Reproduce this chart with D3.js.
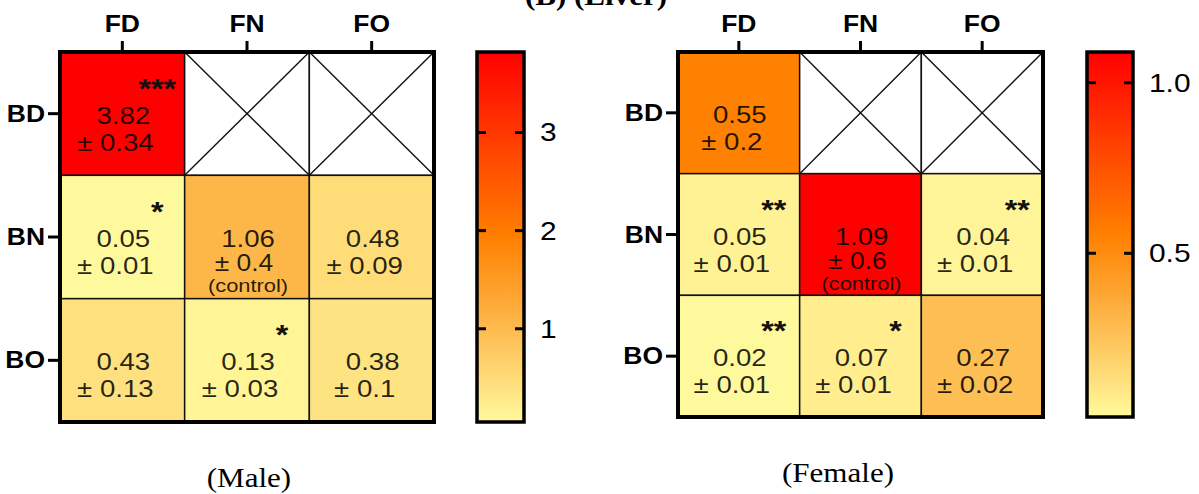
<!DOCTYPE html>
<html>
<head>
<meta charset="utf-8">
<script src="https://cdn.jsdelivr.net/npm/d3@7"></script>
<style>
  html, body { margin: 0; padding: 0; background: #fff; }
  svg { display: block; }
</style>
</head>
<body>
<div id="chart"></div>
<script>
// Data
const cols = ['FD', 'FN', 'FO'];
const rows = ['BD', 'BN', 'BO'];

const maleMean = [[3.82, null, null], [0.05, 1.06, 0.48], [0.43, 0.13, 0.38]];
const maleSd = [['0.34', null, null], ['0.01', '0.4', '0.09'], ['0.13', '0.03', '0.1']];
const maleStars = [['***', '', ''], ['*', '', ''], ['', '*', '']];
const maleTicks = [1, 2, 3];

const femaleMean = [[0.55, null, null], [0.05, 1.09, 0.04], [0.02, 0.07, 0.27]];
const femaleSd = [['0.2', null, null], ['0.01', '0.6', '0.01'], ['0.01', '0.01', '0.02']];
const femaleStars = [['', '', ''], ['**', '', '**'], ['**', '*', '']];
const femaleTicks = [0.5, 1.0];

const controlCell = { row: 'BN', col: 'FN' };
const title = '(B) (Liver)';

const W = 1199, H = 494;
const SX = 1.15; // the source figure is stretched horizontally
const sans = '"Liberation Sans", Arial, sans-serif';
const serif = '"Liberation Serif", "Times New Roman", serif';

const svg = d3.select('#chart').append('svg').attr('width', W).attr('height', H);

// small helper for horizontally stretched text
function txt(g, x, y, s, anchor, size, weight, family) {
  return g.append('text')
    .attr('transform', `translate(${x},${y}) scale(${SX},1)`)
    .attr('text-anchor', anchor)
    .style('font-family', family || sans)
    .style('font-size', size + 'px')
    .style('font-weight', weight || 'normal')
    .text(s);
}

const ramp = d3.scaleLinear()
  .domain([0, 0.25, 0.5, 1])
  .range(['#FFF99D', '#FDBB4F', '#FF8000', '#FF0000'])
  .interpolate(d3.interpolateRgb);

function panel(cfg) {
  const g = svg.append('g');
  const x = d3.scaleBand().domain(cols).range([cfg.x0, cfg.x1]);
  const y = d3.scaleBand().domain(rows).range([cfg.y0, cfg.y1]);
  const flat = cfg.mean.flat().filter((v) => v != null);
  const vmin = d3.min(flat), vmax = d3.max(flat);
  const frac = d3.scaleLinear().domain([vmin, vmax]).range([0, 1]);
  const color = (v) => ramp(frac(v));

  const cells = [];
  rows.forEach((r, i) => cols.forEach((c, j) => {
    cells.push({ r, c, v: cfg.mean[i][j], sd: cfg.sd[i][j], star: cfg.stars[i][j] });
  }));

  // cells
  g.selectAll('rect.cell').data(cells).enter().append('rect')
    .attr('class', 'cell')
    .attr('x', (d) => x(d.c)).attr('y', (d) => y(d.r))
    .attr('width', x.bandwidth()).attr('height', y.bandwidth())
    .attr('fill', (d) => (d.v == null ? '#fff' : color(d.v)))
    .attr('stroke', '#111').attr('stroke-width', 1.5);

  // crossed (empty) cells
  const empty = cells.filter((d) => d.v == null);
  g.selectAll('line.x1').data(empty).enter().append('line')
    .attr('x1', (d) => x(d.c)).attr('y1', (d) => y(d.r))
    .attr('x2', (d) => x(d.c) + x.bandwidth()).attr('y2', (d) => y(d.r) + y.bandwidth())
    .attr('stroke', '#111').attr('stroke-width', 1.4);
  g.selectAll('line.x2').data(empty).enter().append('line')
    .attr('x1', (d) => x(d.c) + x.bandwidth()).attr('y1', (d) => y(d.r))
    .attr('x2', (d) => x(d.c)).attr('y2', (d) => y(d.r) + y.bandwidth())
    .attr('stroke', '#111').attr('stroke-width', 1.4);

  // outer border
  g.append('rect')
    .attr('x', cfg.x0).attr('y', cfg.y0)
    .attr('width', cfg.x1 - cfg.x0).attr('height', cfg.y1 - cfg.y0)
    .attr('fill', 'none').attr('stroke', '#000').attr('stroke-width', 4);

  // cell texts
  cells.filter((d) => d.v != null).forEach((d) => {
    const cx = x(d.c) + x.bandwidth() / 2;
    const cy = y(d.r) + y.bandwidth() / 2;
    const isCtrl = d.r === controlCell.row && d.c === controlCell.col;
    const tg = g.append('g').style('fill', '#000').style('fill-opacity', 0.85);
    txt(tg, cx + 1, cy + 10, d.v.toFixed(2), 'middle', 24);
    if (isCtrl) {
      txt(tg, cx - 3, cy + 34, '± ' + d.sd, 'middle', 23);
      txt(tg, cx + 1, cy + 55, '(control)', 'middle', 19);
    } else {
      txt(tg, cx - 7, cy + 37, '± ' + d.sd, 'middle', 24);
    }
    if (d.star) {
      txt(g, cx + 35, cy - 16, d.star, 'middle', 28, 'bold').style('fill', '#111');
    }
  });

  // column axis on top
  cols.forEach((c) => {
    const cx = x(c) + x.bandwidth() / 2;
    g.append('line').attr('x1', cx).attr('x2', cx).attr('y1', cfg.y0 - 11).attr('y2', cfg.y0)
      .attr('stroke', '#000').attr('stroke-width', 3);
    txt(g, cx, cfg.y0 - 20, c, 'middle', 23, 'bold');
  });
  // row axis on the left
  rows.forEach((r) => {
    const cy = y(r) + y.bandwidth() / 2;
    g.append('line').attr('x1', cfg.x0 - 12).attr('x2', cfg.x0).attr('y1', cy).attr('y2', cy)
      .attr('stroke', '#000').attr('stroke-width', 3);
    txt(g, cfg.x0 - 15, cy + 8, r, 'end', 23, 'bold');
  });

  // colour bar
  const bar = d3.scaleLinear().domain([vmin, vmax]).range([cfg.y1, cfg.y0]);
  const gid = 'grad-' + cfg.id;
  const grad = svg.append('defs').append('linearGradient').attr('id', gid)
    .attr('x1', 0).attr('y1', 1).attr('x2', 0).attr('y2', 0);
  d3.range(0, 1.0001, 0.05).forEach((t) => {
    grad.append('stop').attr('offset', t).attr('stop-color', ramp(t));
  });
  g.append('rect')
    .attr('x', cfg.bx0).attr('y', cfg.y0)
    .attr('width', cfg.bx1 - cfg.bx0).attr('height', cfg.y1 - cfg.y0)
    .attr('fill', `url(#${gid})`).attr('stroke', '#000').attr('stroke-width', 3.5);
  cfg.ticks.forEach((t) => {
    const ty = bar(t);
    g.append('line').attr('x1', cfg.bx0).attr('x2', cfg.bx0 + 9).attr('y1', ty).attr('y2', ty)
      .attr('stroke', '#000').attr('stroke-width', 3);
    g.append('line').attr('x1', cfg.bx1 - 9).attr('x2', cfg.bx1).attr('y1', ty).attr('y2', ty)
      .attr('stroke', '#000').attr('stroke-width', 3);
    txt(g, cfg.bx1 + 16, ty + 9, d3.format(cfg.fmt)(t), 'start', 26);
  });

  // caption below
  txt(g, cfg.capX, cfg.capY, cfg.caption, 'middle', 27, 'normal', serif);
}

panel({
  id: 'male', x0: 60, x1: 434, y0: 52, y1: 422, bx0: 477, bx1: 524,
  mean: maleMean, sd: maleSd, stars: maleStars, ticks: maleTicks, fmt: 'd',
  caption: '(Male)', capX: 249, capY: 487
});
panel({
  id: 'female', x0: 678, x1: 1043, y0: 52, y1: 417, bx0: 1087, bx1: 1133,
  mean: femaleMean, sd: femaleSd, stars: femaleStars, ticks: femaleTicks, fmt: '.1f',
  caption: '(Female)', capX: 838, capY: 482
});

// title, partly cut off at the top as in the source
txt(svg, 596, 5, title, 'middle', 27, 'bold', serif);
</script>
</body>
</html>
